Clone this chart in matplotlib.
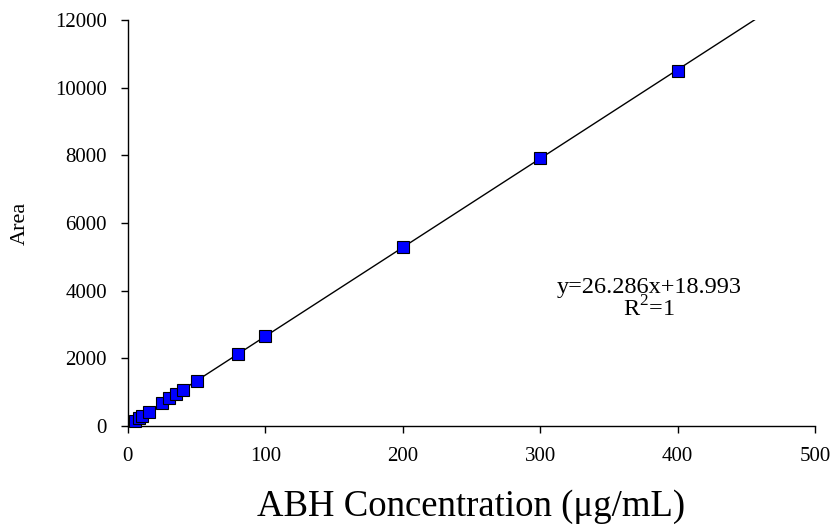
import matplotlib
matplotlib.use("Agg")
import matplotlib.pyplot as plt
import numpy as np

conc = [5, 8, 10, 15, 25, 30, 35, 40, 50, 80, 100, 200, 300, 400]
area = [132, 229, 282, 413, 676, 808, 939, 1071, 1333, 2122, 2648, 5300, 7920, 10500]
slope = 26.286
intercept = 18.993
eq_text = "y=26.286x+18.993"
r2_text = r"R$^2$=1"
x_ticks = [0, 100, 200, 300, 400, 500]
y_ticks = [0, 2000, 4000, 6000, 8000, 10000, 12000]

plt.rcParams['font.family'] = ['Liberation Serif', 'DejaVu Serif']
plt.rcParams['mathtext.fontset'] = 'custom'
plt.rcParams['mathtext.rm'] = 'Liberation Serif'

fig = plt.figure(figsize=(8.36, 5.27), dpi=100)
ax = fig.add_axes([0.153, 0.192, 0.822, 0.770])

xl = np.array([0, 500])
ax.plot(xl, slope * xl + intercept, color='black', lw=1.0, zorder=2)
ax.plot(conc, area, linestyle='none', marker='s', markersize=8,
        markerfacecolor='#0000ff', markeredgecolor='black', markeredgewidth=0.8, zorder=3,
        clip_on=False)

ax.set_xlim(0, 500)
ax.set_ylim(0, 12000)
ax.set_xticks(x_ticks)
ax.set_yticks(y_ticks)
ax.tick_params(direction='out', length=5, width=1, labelsize=15)
ax.tick_params(axis='x', pad=10)
ax.tick_params(axis='y', pad=10)
for s in ['top', 'right']:
    ax.spines[s].set_visible(False)
for s in ['left', 'bottom']:
    ax.spines[s].set_linewidth(1)

fig.text(20 / 836, 1 - 223 / 527, "Area", rotation=90, ha='center', va='center', fontsize=16)
fig.text(471 / 836, 1 - 516 / 527, "ABH Concentration (μg/mL)", ha='center', va='baseline', fontsize=26.5)

ax.text(379, 4100, eq_text, ha='center', va='center', fontsize=17.5)
ax.text(379, 3450, r2_text, ha='center', va='center', fontsize=17.5)

fig.savefig("out.png", dpi=100)
